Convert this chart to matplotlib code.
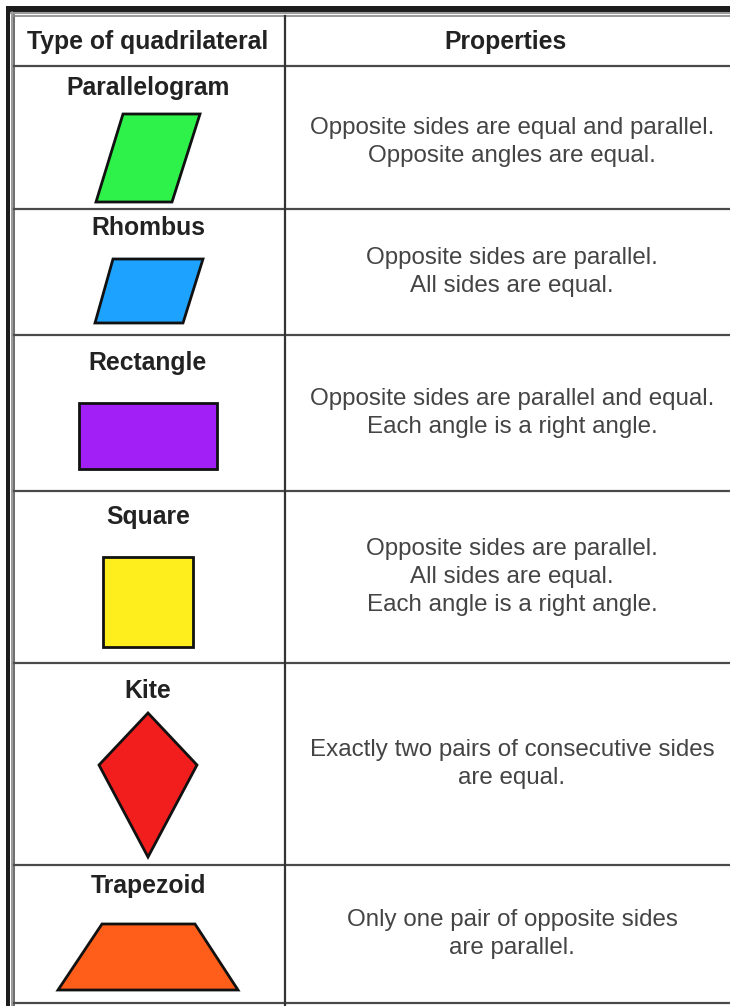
import matplotlib.pyplot as plt
from matplotlib.patches import Polygon, Rectangle

plt.rcParams['font.family'] = ['Liberation Sans', 'DejaVu Sans']

# table content
headers = ["Type of quadrilateral", "Properties"]
shape_names = ["Parallelogram", "Rhombus", "Rectangle", "Square", "Kite", "Trapezoid"]
properties = [
    "Opposite sides are equal and parallel.\nOpposite angles are equal.",
    "Opposite sides are parallel.\nAll sides are equal.",
    "Opposite sides are parallel and equal.\nEach angle is a right angle.",
    "Opposite sides are parallel.\nAll sides are equal.\nEach angle is a right angle.",
    "Exactly two pairs of consecutive sides\nare equal.",
    "Only one pair of opposite sides\nare parallel.",
]
fill_colors = ["#2ef24a", "#1ea2ff", "#a21ff5", "#ffee1e", "#f21e1e", "#ff5e1a"]

# shape outlines (pixel space of the picture)
shape_points = [
    [(96, 202), (123, 114), (200, 114), (172, 202)],
    [(95, 323), (113, 259), (203, 259), (183, 323)],
    [(79, 469), (79, 403), (217, 403), (217, 469)],
    [(103, 647), (103, 557), (193, 557), (193, 647)],
    [(148, 713), (197, 765), (148, 857), (99, 765)],
    [(58, 990), (102, 924), (195, 924), (238, 990)],
]

# row layout
row_lines = [66, 209, 335, 491, 663, 865, 1003]
name_y = [88, 228, 363, 517, 691, 886]
prop_y = [142, 272, 413, 577, 764, 934]
col_x = 285

fig = plt.figure(figsize=(7.30, 10.06), dpi=100)
ax = fig.add_axes([0, 0, 1, 1])
ax.set_xlim(0, 730)
ax.set_ylim(1006, 0)
ax.axis('off')

# outer frame
ax.add_patch(Rectangle((6, 6), 724, 6, color='#1c1c1c', lw=0))
ax.add_patch(Rectangle((6, 6), 4, 1000, color='#1c1c1c', lw=0))
ax.plot([11.5, 11.5], [12, 1006], color='#8a8a8a', lw=1.2)
ax.plot([14, 14], [15, 1006], color='#555555', lw=1.2)
ax.plot([11, 730], [13, 13], color='#9a9a9a', lw=1.5)
ax.plot([14, 730], [16, 16], color='#888888', lw=1.2)

# grid
for y in row_lines:
    ax.plot([14, 730], [y, y], color='#4a4a4a', lw=1.6)
ax.plot([col_x, col_x], [16, 1006], color='#333333', lw=1.6)

# headers
ax.text(148, 42, headers[0], ha='center', va='center', fontsize=17.8,
        fontweight='bold', color='#222222')
ax.text(506, 42, headers[1], ha='center', va='center', fontsize=17.8,
        fontweight='bold', color='#222222')

for i in range(len(shape_names)):
    ax.text(148, name_y[i], shape_names[i], ha='center', va='center',
            fontsize=17.8, fontweight='bold', color='#222222')
    ax.add_patch(Polygon(shape_points[i], closed=True, facecolor=fill_colors[i],
                         edgecolor='#111111', lw=2, joinstyle='miter'))
    ax.text(512, prop_y[i], properties[i], ha='center', va='center',
            fontsize=17.4, color='#444444', linespacing=1.38)

fig.savefig('out.png', dpi=100)
